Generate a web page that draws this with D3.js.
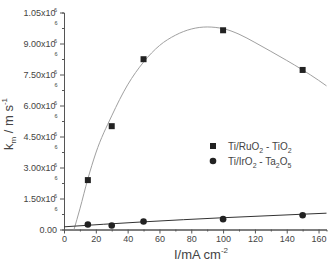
<!DOCTYPE html>
<html><head><meta charset="utf-8">
<script src="https://cdn.jsdelivr.net/npm/d3@7"></script>
<style>body{margin:0;background:#fff}svg{display:block}text{font-family:"Liberation Sans",Arial,sans-serif}</style>
</head><body><svg id="c" width="332" height="266"></svg>
<script>
// values in units of 10^6
const xTicks = [0,20,40,60,80,100,120,140,160];
const yTicks = [0,0.15,0.30,0.45,0.60,0.75,0.90,1.05];
const yTickLabels = ["0.00","1.50x10","3.00x10","4.50x10","6.00x10","7.50x10","9.00x10","1.05x10"];
const currents = [15,30,50,100,150];
const ruValues = [0.239,0.500,0.824,0.964,0.772];
const irValues = [0.024,0.019,0.039,0.050,0.069];
const ruFitX = [6.3,10,15,20,30,40,50,60,70,80,90,100,110,120,130,140,150,160,165];
const ruFitY = [0,0.10,0.245,0.37,0.55,0.70,0.81,0.89,0.94,0.97,0.98,0.972,0.945,0.905,0.862,0.818,0.772,0.722,0.695];
const irFitX = [0,50,100,150,165];
const irFitY = [0.013,0.037,0.057,0.074,0.079];

const svg = d3.select("#c");
const x = d3.scaleLinear().domain([0,165]).range([64,326.5]);
const y = d3.scaleLinear().domain([0,1.05]).range([229.5,12.5]);
const axCol = "#555", txtCol = "#444";

// x axis
const xa = svg.append("g").attr("transform","translate(0,229.5)")
  .call(d3.axisBottom(x).tickValues(xTicks).tickSize(4).tickSizeOuter(0).tickPadding(2).tickFormat(d3.format("d")));
xa.append("g").call(d3.axisBottom(x).tickValues(d3.range(10,170,20)).tickSize(2).tickFormat(""));
// y axis
const ya = svg.append("g").attr("transform","translate(64,0)")
  .call(d3.axisLeft(y).tickValues(yTicks).tickSize(4).tickSizeOuter(0).tickPadding(3).tickFormat((d,i)=>yTickLabels[i]));
ya.append("g").call(d3.axisLeft(y).tickValues(d3.range(0.075,1.05,0.15)).tickSize(2).tickFormat(""));
svg.selectAll(".domain").attr("stroke",axCol);
svg.selectAll(".tick line").attr("stroke",axCol);
svg.selectAll(".tick text").attr("fill",txtCol).attr("font-size",9);
ya.selectAll(".tick text").each(function(d,i){
  if(i>0){ d3.select(this).append("tspan").attr("font-size",5.5).attr("dx",-1.5).attr("dy",-4).text("6"); }
});

// fit curves
const line = d3.line().x(d=>x(d[0])).y(d=>y(d[1])).curve(d3.curveMonotoneX);
svg.append("path").attr("d",line(ruFitX.map((v,i)=>[v,ruFitY[i]]))).attr("fill","none").attr("stroke","#a0a0a0").attr("stroke-width",1);
svg.append("path").attr("d",line(irFitX.map((v,i)=>[v,irFitY[i]]))).attr("fill","none").attr("stroke","#333").attr("stroke-width",1);

// markers
svg.selectAll(".sq").data(currents).join("rect")
  .attr("x",(d)=>x(d)-3).attr("y",(d,i)=>y(ruValues[i])-3).attr("width",6).attr("height",6).attr("fill","#222");
svg.selectAll(".ci").data(currents).join("circle")
  .attr("cx",d=>x(d)).attr("cy",(d,i)=>y(irValues[i])).attr("r",3.3).attr("fill","#222");

// legend
const lg = svg.append("g");
lg.append("rect").attr("x",210).attr("y",143).attr("width",6).attr("height",6).attr("fill","#222");
lg.append("circle").attr("cx",213).attr("cy",161).attr("r",3.3).attr("fill","#222");
const t1 = lg.append("text").attr("x",228).attr("y",150).attr("font-size",10).attr("fill",txtCol);
t1.append("tspan").text("Ti/RuO");
t1.append("tspan").attr("font-size",7).attr("dy",3).text("2");
t1.append("tspan").attr("dy",-3).text(" - TiO");
t1.append("tspan").attr("font-size",7).attr("dy",3).text("2");
const t2 = lg.append("text").attr("x",228).attr("y",165).attr("font-size",10).attr("fill",txtCol);
t2.append("tspan").text("Ti/IrO");
t2.append("tspan").attr("font-size",7).attr("dy",3).text("2");
t2.append("tspan").attr("dy",-3).text(" - Ta");
t2.append("tspan").attr("font-size",7).attr("dy",3).text("2");
t2.append("tspan").attr("dy",-3).text("O");
t2.append("tspan").attr("font-size",7).attr("dy",3).text("5");

// axis titles
const xt = svg.append("text").attr("x",174).attr("y",259).attr("font-size",13).attr("fill",txtCol);
xt.append("tspan").text("I/mA cm");
xt.append("tspan").attr("font-size",8).attr("dx",0).attr("dy",-6).text("-2");
const yt = svg.append("text").attr("transform","translate(13,150) rotate(-90)").attr("font-size",13).attr("fill",txtCol);
yt.append("tspan").text("k");
yt.append("tspan").attr("font-size",8).attr("dy",3).text("m");
yt.append("tspan").attr("dy",-3).text(" / m s");
yt.append("tspan").attr("font-size",8).attr("dy",-6).text("-1");
</script></body></html>
